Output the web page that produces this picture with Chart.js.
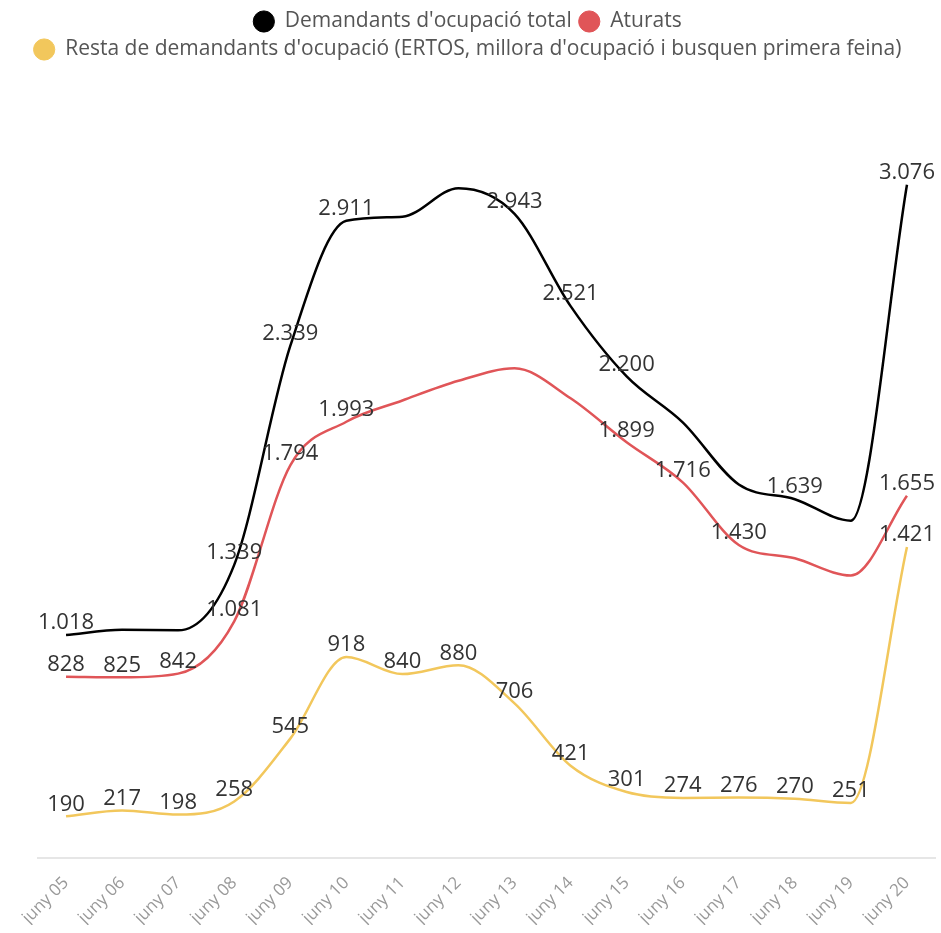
<!DOCTYPE html>
<html>
<head>
<meta charset="utf-8">
<script src="https://cdn.jsdelivr.net/npm/chart.js@4/dist/chart.umd.min.js"></script>
<style>
  html, body { margin: 0; padding: 0; background: #fff; }
  #wrap { width: 941px; height: 933px; position: relative; }
</style>
</head>
<body>
<div id="wrap"><canvas id="chart"></canvas></div>
<script>
// Data
var labels = ['juny 05', 'juny 06', 'juny 07', 'juny 08', 'juny 09', 'juny 10', 'juny 11', 'juny 12',
              'juny 13', 'juny 14', 'juny 15', 'juny 16', 'juny 17', 'juny 18', 'juny 19', 'juny 20'];

var total   = [1018, 1042, 1040, 1339, 2339, 2911, 2930, 3060, 2943, 2521, 2200, 1990, 1706, 1639, 1541, 3076];
var aturats = [828, 825, 842, 1081, 1794, 1993, 2090, 2180, 2237, 2100, 1899, 1716, 1430, 1369, 1290, 1655];
var resta   = [190, 217, 198, 258, 545, 918, 840, 880, 706, 421, 301, 274, 276, 270, 251, 1421];

// which values carry a visible label in the original
var showTotal   = [1, 0, 0, 1, 1, 1, 0, 0, 1, 1, 1, 0, 0, 1, 0, 1];
var showAturats = [1, 1, 1, 1, 1, 1, 0, 0, 0, 0, 1, 1, 1, 0, 0, 1];
var showResta   = [1, 1, 1, 1, 1, 1, 1, 1, 1, 1, 1, 1, 1, 1, 1, 1];

function fmt(v) {
    return String(v).replace(/\B(?=(\d{3})+(?!\d))/g, '.');
}

// simple value labels above each point
var valueLabels = {
    id: 'valueLabels',
    afterDatasetsDraw: function(chart) {
        var ctx = chart.ctx;
        ctx.save();
        ctx.font = '22px "Open Sans"';
        ctx.fillStyle = '#333';
        ctx.textAlign = 'center';
        ctx.textBaseline = 'bottom';
        chart.data.datasets.forEach(function(ds, i) {
            var meta = chart.getDatasetMeta(i);
            meta.data.forEach(function(pt, j) {
                if (!ds.show[j]) return;
                ctx.fillText(fmt(ds.data[j]), pt.x, pt.y - 1);
            });
        });
        ctx.restore();
    }
};

var ctx = document.getElementById('chart');

var myChart = new Chart(ctx, {
    type: 'line',
    data: {
        labels: labels,
        datasets: [{
            label: "Demandants d'ocupació total",
            data: total,
            show: showTotal,
            borderColor: '#000',
            backgroundColor: '#000'
        }, {
            label: 'Aturats',
            data: aturats,
            show: showAturats,
            borderColor: '#e05558',
            backgroundColor: '#e05558'
        }, {
            label: "Resta de demandants d'ocupació (ERTOS, millora d'ocupació i busquen primera feina)",
            data: resta,
            show: showResta,
            borderColor: '#f2c75c',
            backgroundColor: '#f2c75c'
        }]
    },
    options: {
        responsive: true,
        maintainAspectRatio: false,
        animation: false,
        elements: {
            line: { cubicInterpolationMode: 'monotone', borderWidth: 2.5 },
            point: { radius: 0 }
        },
        layout: { padding: { left: 0, right: 6, top: 4, bottom: 8 } },
        plugins: {
            legend: {
                position: 'top',
                labels: {
                    usePointStyle: true,
                    pointStyle: 'circle',
                    boxWidth: 30,
                    boxHeight: 15,
                    padding: 7,
                    color: '#555',
                    font: { family: 'Open Sans', size: 21 }
                }
            },
            tooltip: { enabled: false }
        },
        scales: {
            x: {
                offset: true,
                grid: { display: false },
                border: { display: true, color: '#e6e6e6', width: 2 },
                ticks: {
                    autoSkip: false,
                    minRotation: 45,
                    maxRotation: 45,
                    padding: 7,
                    color: '#999',
                    font: { family: 'Open Sans', size: 17 }
                },
                afterFit: function(scale) { scale.height -= 10; }
            },
            y: {
                min: 0,
                max: 3600,
                grid: { display: false },
                border: { display: false },
                ticks: { display: false },
                afterFit: function(scale) { scale.width = 38; }
            }
        }
    },
    plugins: [valueLabels]
});
</script>
</body>
</html>
